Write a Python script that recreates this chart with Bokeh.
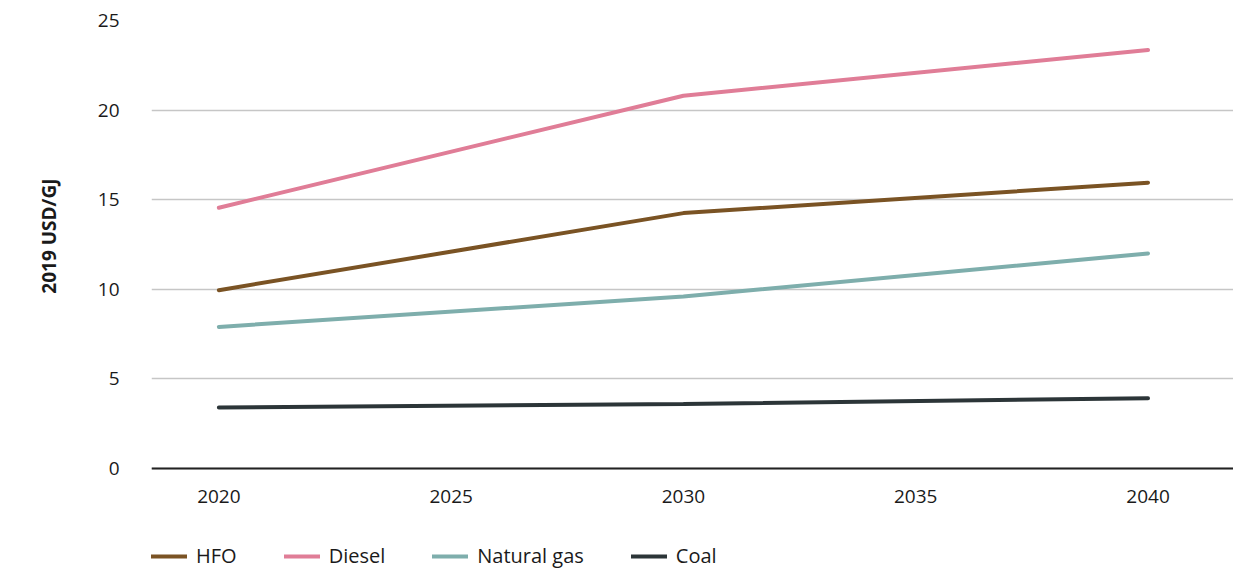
from bokeh.plotting import figure
from bokeh.models import Legend, LegendItem, Range1d, FixedTicker, Span, Title, ColumnDataSource
from bokeh.core.properties import value
from bokeh.embed import file_html
from bokeh.resources import INLINE

years = [2020, 2030, 2040]
hfo = [9.95, 14.25, 15.95]
diesel = [14.55, 20.8, 23.35]
natural_gas = [7.9, 9.6, 12.0]
coal = [3.4, 3.6, 3.92]

series = [
    ("HFO", hfo, "#7a5324"),
    ("Diesel", diesel, "#e07d97"),
    ("Natural gas", natural_gas, "#7eaeac"),
    ("Coal", coal, "#2c3538"),
]

x_ticks = [2020, 2025, 2030, 2035, 2040]
y_ticks = [0, 5, 10, 15, 20, 25]

FONT = "Open Sans"

p = figure(width=1233, height=569, output_backend="svg", toolbar_location=None,
           x_range=Range1d(2018.55, 2041.84), y_range=Range1d(-5.64, 25),
           x_axis_location=None,
           min_border_left=142, min_border_right=0, min_border_top=20,
           min_border_bottom=0)
p.outline_line_color = None
p.background_fill_color = "white"
p.border_fill_color = "white"

renderers = []
for name, vals, col in series:
    r = p.line(years, vals, line_color=col, line_width=4, line_cap="round")
    renderers.append((name, r))

# x axis baseline and year labels at y = 0
p.add_layout(Span(location=0, dimension="width", line_color="#222222", line_width=2))
tick_src = ColumnDataSource(dict(x=x_ticks, y=[0] * len(x_ticks),
                                 t=[str(v) for v in x_ticks]))
p.text(x="x", y="y", text="t", source=tick_src, y_offset=28,
       text_align="center", text_baseline="middle",
       text_font=value(FONT), text_font_size="19px", text_color="#1a1a1a")

p.yaxis.ticker = FixedTicker(ticks=y_ticks)
p.xgrid.visible = False
p.ygrid.grid_line_color = "#c6c6c6"
p.ygrid.grid_line_width = 1.5

ax = p.yaxis[0]
ax.major_tick_line_color = None
ax.minor_tick_line_color = None
ax.major_label_text_font = FONT
ax.major_label_text_font_size = "19px"
ax.major_label_text_color = "#1a1a1a"
ax.axis_line_color = None
ax.major_label_standoff = 26

p.add_layout(Title(text="2019 USD/GJ", align="right", offset=158, standoff=66,
                   text_font=FONT, text_font_style="bold", text_font_size="19px",
                   text_color="#1a1a1a"), "left")

legend = Legend(items=[LegendItem(label=n, renderers=[r]) for n, r in renderers],
                orientation="horizontal", location=(0, 0),
                glyph_width=36, glyph_height=10, label_height=16,
                label_standoff=9, spacing=47,
                padding=0, margin=0, border_line_color=None,
                background_fill_alpha=0,
                label_text_font=FONT, label_text_font_size="20px",
                label_text_color="#1a1a1a")
p.add_layout(legend, "center")

open("out.html", "w").write(file_html(p, INLINE))
